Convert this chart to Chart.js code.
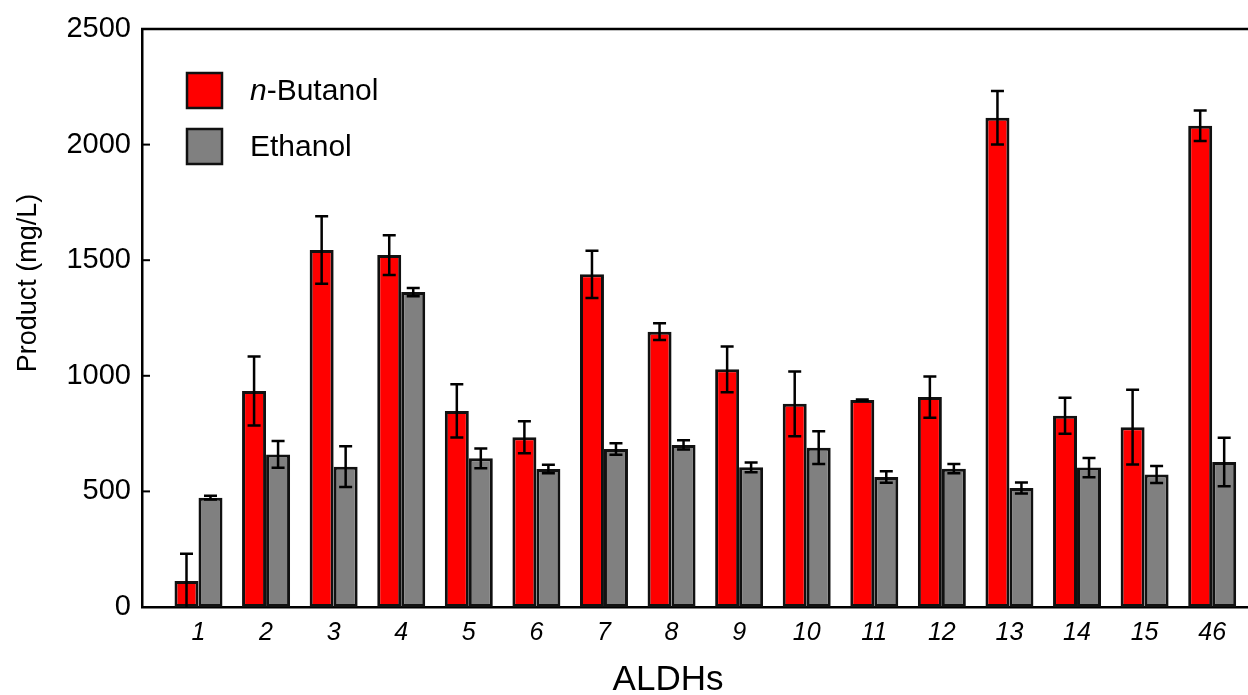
<!DOCTYPE html>
<html><head><meta charset="utf-8">
<script src="https://cdn.jsdelivr.net/npm/chart.js@4/dist/chart.umd.min.js"></script>
<style>html,body{margin:0;padding:0;background:#fff;overflow:hidden}#wrap{width:1248px;height:695px;position:relative}canvas{display:block}</style>
</head><body><div id="wrap"><canvas id="c" width="1248" height="695"></canvas></div>
<script>
const categories = ['1','2','3','4','5','6','7','8','9','10','11','12','13','14','15','46'];
const butanol    = [112, 934, 1544, 1522, 848, 734, 1439, 1191, 1028, 879, 895, 908, 2116, 827, 778, 2082];
const butanolErr = [118, 149, 146, 86, 115, 69, 102, 36, 99, 140, 3, 89, 116, 78, 162, 66];
const ethanol    = [473, 660, 607, 1362, 643, 597, 683, 701, 604, 689, 562, 598, 515, 603, 573, 627];
const ethanolErr = [8, 58, 88, 18, 43, 18, 25, 20, 21, 71, 25, 20, 24, 42, 37, 105];
const yTicks = [0, 500, 1000, 1500, 2000, 2500];
const seriesNames = ['n-Butanol', 'Ethanol'];

const FONT = "'Liberation Sans', Arial, Helvetica, sans-serif";

const decor = {
  id: 'decor',
  afterDatasetsDraw(chart) {
    const c = chart.ctx, y = chart.scales.y;
    c.save();
    c.strokeStyle = '#000'; c.lineWidth = 2.5;
    chart.data.datasets.forEach((ds, di) => {
      const meta = chart.getDatasetMeta(di);
      meta.data.forEach((bar, i) => {
        const v = ds.data[i].y, e = ds.err[i];
        const yt = y.getPixelForValue(v + e);
        const yb = y.getPixelForValue(Math.max(0, v - e));
        const x = bar.x, hw = 6.5;
        c.beginPath();
        c.moveTo(x, yt); c.lineTo(x, yb);
        c.moveTo(x - hw, yt); c.lineTo(x + hw, yt);
        if (v - e > 0) { c.moveTo(x - hw, yb); c.lineTo(x + hw, yb); }
        c.stroke();
      });
    });
    c.restore();
  },
  afterDraw(chart) {
    const c = chart.ctx, a = chart.chartArea, y = chart.scales.y;
    c.save();
    c.strokeStyle = '#000'; c.lineWidth = 2.5;
    // top frame
    c.beginPath(); c.moveTo(a.left - 1, a.top); c.lineTo(a.right, a.top); c.stroke();
    // inward ticks
    c.lineWidth = 2;
    yTicks.forEach(v => {
      const py = y.getPixelForValue(v);
      c.beginPath(); c.moveTo(a.left, py); c.lineTo(a.left + 8, py); c.stroke();
    });
    // legend
    const lx = a.left + 45, ly = a.top + 44, box = 35, gap = 56;
    chart.data.datasets.forEach((ds, i) => {
      const by = ly + i * gap;
      c.fillStyle = ds.backgroundColor;
      c.fillRect(lx, by, box, box);
      c.strokeStyle = '#111'; c.lineWidth = 2.5;
      c.strokeRect(lx, by, box, box);
      c.fillStyle = '#000';
      c.textBaseline = 'middle'; c.textAlign = 'left';
      let tx = lx + 63;
      const ty = by + box / 2 + 1;
      if (i === 0) {
        c.font = 'italic 30px ' + FONT;
        c.fillText('n', tx, ty);
        tx += c.measureText('n').width;
        c.font = '30px ' + FONT;
        c.fillText(ds.label.slice(1), tx, ty);
      } else {
        c.font = '30px ' + FONT;
        c.fillText(ds.label, tx, ty);
      }
    });
    // axis titles
    c.fillStyle = '#000'; c.textAlign = 'center'; c.textBaseline = 'middle';
    c.font = '35px ' + FONT;
    c.fillText('ALDHs', 668, 680);
    c.translate(29, 283); c.rotate(-Math.PI / 2);
    c.font = '27px ' + FONT;
    c.fillText('Product (mg/L)', 0, 0);
    c.restore();
  }
};

new Chart(document.getElementById('c'), {
  type: 'bar',
  data: {
    datasets: [
      { label: seriesNames[0], data: butanol.map((v, i) => ({ x: i, y: v })), err: butanolErr,
        backgroundColor: '#ff0000', borderColor: '#111', borderWidth: 3, borderSkipped: false },
      { label: seriesNames[1], data: ethanol.map((v, i) => ({ x: i, y: v })), err: ethanolErr,
        backgroundColor: '#808080', borderColor: '#111', borderWidth: 3, borderSkipped: false }
    ]
  },
  options: {
    responsive: false, animation: false, devicePixelRatio: 1,
    layout: { padding: { top: 29, left: 0, right: 0, bottom: 0 } },
    categoryPercentage: 0.71, barPercentage: 1,
    plugins: { legend: { display: false }, tooltip: { enabled: false } },
    scales: {
      x: {
        type: 'linear', min: -0.836, max: 15.53, offset: false,
        afterBuildTicks: s => { s.ticks = categories.map((_, i) => ({ value: i })); },
        afterFit: s => { s.height = 88; },
        grid: { display: false, drawTicks: false },
        border: { display: true, color: '#000', width: 2.5 },
        ticks: { autoSkip: false, maxRotation: 0, padding: 11, color: '#000',
          font: { family: FONT, size: 25, style: 'italic' },
          callback: v => categories[v] }
      },
      y: {
        min: 0, max: 2500,
        afterBuildTicks: s => { s.ticks = yTicks.map(v => ({ value: v })); },
        afterFit: s => { s.width = 142; },
        grid: { display: false, drawTicks: false },
        border: { display: true, color: '#000', width: 2.5 },
        ticks: { padding: 11, color: '#000', font: { family: FONT, size: 29 },
          callback: v => String(v) }
      }
    }
  },
  plugins: [decor]
});
</script>
</body></html>
